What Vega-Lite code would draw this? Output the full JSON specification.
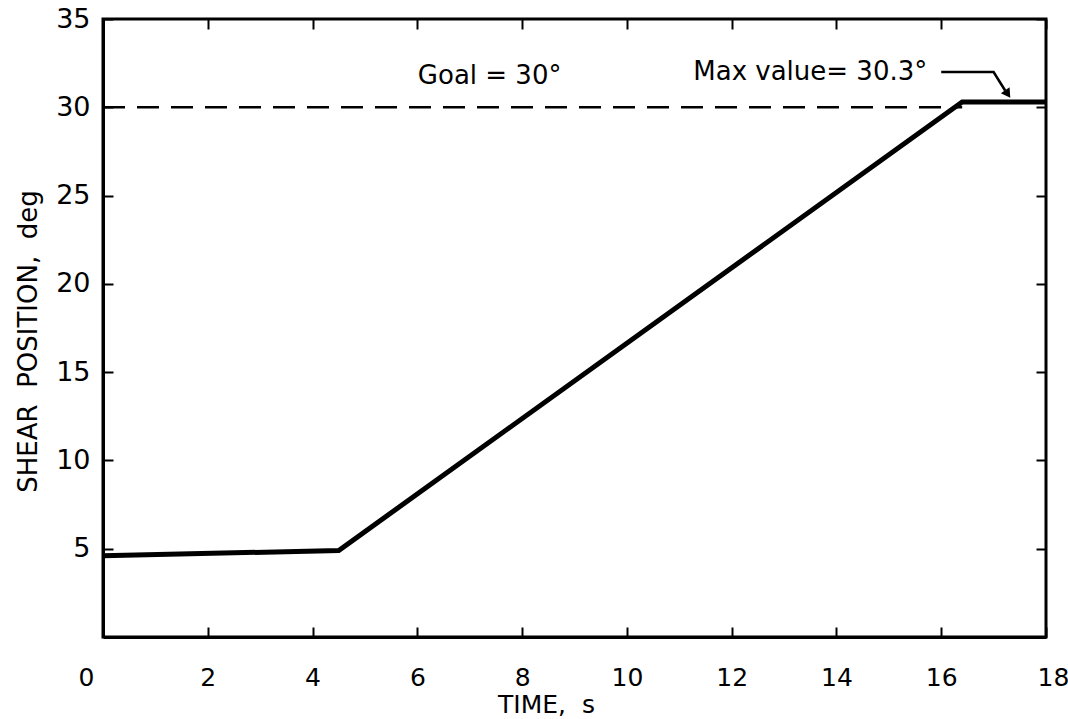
{
  "$schema": "https://vega.github.io/schema/vega-lite/v6.json",
  "width": 943,
  "height": 618,
  "autosize": {"type": "none"},
  "padding": {"left": 103, "top": 19, "right": 22, "bottom": 82},
  "background": "white",
  "config": {
    "view": {"stroke": "black", "strokeWidth": 3},
    "font": "DejaVu Sans",
    "axis": {"domainColor": "black", "domainWidth": 3, "tickColor": "black", "tickWidth": 2, "grid": false, "labelColor": "black", "titleColor": "black", "labelFont": "DejaVu Sans", "titleFont": "DejaVu Sans", "titleFontWeight": "normal"}
  },
  "datasets": {
    "curve": [
      {"t": 0, "deg": 4.6},
      {"t": 4.5, "deg": 4.9},
      {"t": 16.4, "deg": 30.3},
      {"t": 18, "deg": 30.3}
    ],
    "goal": [{"t": 0, "t2": 16.4, "deg": 30}],
    "labels": [
      {"t": 7.38, "deg": 31.75, "text": "Goal = 30°"},
      {"t": 13.5, "deg": 32.0, "text": "Max value= 30.3°"}
    ],
    "leader": [
      {"t": 16.0, "deg": 32.0, "o": 1},
      {"t": 17.0, "deg": 32.0, "o": 2},
      {"t": 17.22, "deg": 30.95, "o": 3}
    ],
    "arrow": [{"t": 17.27, "deg": 30.75}]
  },
  "layer": [
    {
      "data": {"name": "curve"},
      "mark": {"type": "line", "color": "black", "strokeWidth": 5, "strokeJoin": "miter"},
      "encoding": {
        "x": {"field": "t", "type": "quantitative", "scale": {"domain": [0, 18], "nice": false},
          "axis": {"orient": "bottom", "values": [0, 2, 4, 6, 8, 10, 12, 14, 16, 18], "tickSize": -10, "labelPadding": 38, "labelFontSize": 25, "labelFlush": false,
            "labelOffset": {"expr": "datum.value == 0 ? -17 : datum.value == 18 ? 7 : 0"},
            "title": "TIME,\u00a0\u00a0s", "titleFontSize": 25, "titlePadding": 2, "titleX": 443}},
        "y": {"field": "deg", "type": "quantitative", "scale": {"domain": [0, 35], "nice": false},
          "axis": {"orient": "left", "values": [5, 10, 15, 20, 25, 30, 35], "tickSize": -10, "labelPadding": 23, "labelFontSize": 27, "labelFlush": false, "title": "SHEAR\u00a0\u00a0POSITION,\u00a0\u00a0deg", "titleFontSize": 26, "titlePadding": 14, "titleY": 322}}
      }
    },
    {
      "data": {"name": "goal"},
      "mark": {"type": "rule", "color": "black", "strokeWidth": 2.5, "strokeDash": [22, 12]},
      "encoding": {
        "x": {"field": "t", "type": "quantitative", "axis": {"orient": "top", "values": [0, 2, 4, 6, 8, 10, 12, 14, 16, 18], "tickSize": -10, "labels": false, "title": null, "domain": false}},
        "x2": {"field": "t2"},
        "y": {"field": "deg", "type": "quantitative", "axis": {"orient": "right", "values": [5, 10, 15, 20, 25, 30, 35], "tickSize": -10, "labels": false, "title": null, "domain": false}}
      }
    },
    {
      "data": {"name": "labels"},
      "mark": {"type": "text", "fontSize": 26, "color": "black", "align": "center", "baseline": "middle"},
      "encoding": {
        "x": {"field": "t", "type": "quantitative", "axis": null},
        "y": {"field": "deg", "type": "quantitative", "axis": null},
        "text": {"field": "text"}
      }
    },
    {
      "data": {"name": "leader"},
      "mark": {"type": "line", "color": "black", "strokeWidth": 2.5},
      "encoding": {
        "x": {"field": "t", "type": "quantitative", "axis": null},
        "y": {"field": "deg", "type": "quantitative", "axis": null},
        "order": {"field": "o"}
      }
    },
    {
      "data": {"name": "arrow"},
      "mark": {"type": "point", "shape": "triangle-down", "filled": true, "color": "black", "size": 110, "angle": 326, "opacity": 1},
      "encoding": {
        "x": {"field": "t", "type": "quantitative", "axis": null},
        "y": {"field": "deg", "type": "quantitative", "axis": null}
      }
    }
  ]
}
